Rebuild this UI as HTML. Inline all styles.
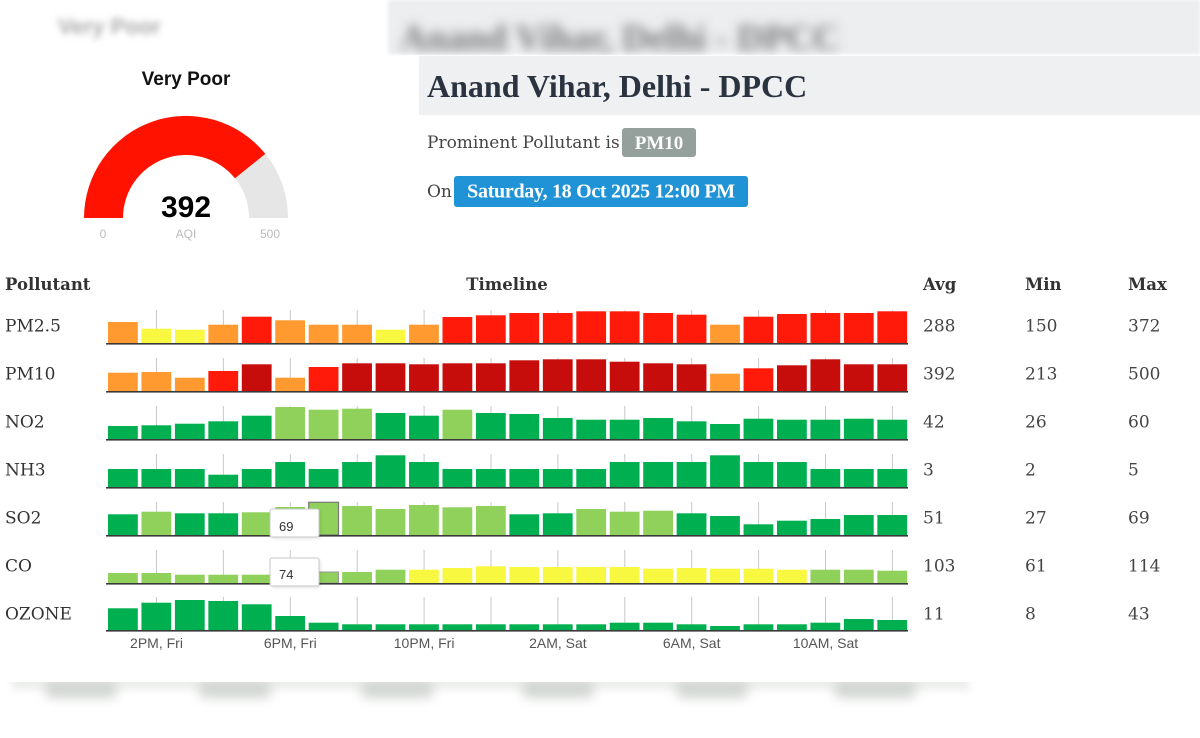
<!DOCTYPE html>
<html><head><meta charset="utf-8">
<style>
html,body{margin:0;padding:0;background:#fff;width:1200px;height:738px;overflow:hidden}
svg{display:block}
.O{fill:#ff9a30}.Y{fill:#f8f840}.R{fill:#ff1a0a}.D{fill:#c70d0c}.L{fill:#8fd15a}.G{fill:#00b050}
.ser{font-family:"DejaVu Serif","Liberation Serif",serif}
.lab{font-size:17px;fill:#333}
.val{font-size:17px;fill:#444}
.hd{font-size:16.5px;font-weight:bold;fill:#333}
.ax{font-family:"Liberation Sans",Arial,sans-serif;font-size:14px;fill:#555}
.tk line{stroke:#c8c8c8;stroke-width:1}
</style></head>
<body>
<svg width="1200" height="738" viewBox="0 0 1200 738" xmlns="http://www.w3.org/2000/svg">
<defs>
<filter id="b3" x="-20%" y="-50%" width="140%" height="200%"><feGaussianBlur stdDeviation="3.5"/></filter>
<filter id="b4" x="-20%" y="-50%" width="140%" height="200%"><feGaussianBlur stdDeviation="4"/></filter>
<filter id="b6" x="-20%" y="-60%" width="140%" height="220%"><feGaussianBlur stdDeviation="5.5"/></filter>
<filter id="sh" x="-30%" y="-30%" width="160%" height="160%"><feGaussianBlur stdDeviation="1.5"/></filter>
<clipPath id="bot"><rect x="0" y="682" width="1200" height="56"/></clipPath>
<clipPath id="topc"><rect x="388" y="0" width="812" height="55"/></clipPath>
<g id="ticks" class="tk">
<line x1="156.5" y1="-33" x2="156.5" y2="0"/><line x1="223.4" y1="-33" x2="223.4" y2="0"/><line x1="290.3" y1="-33" x2="290.3" y2="0"/><line x1="357.2" y1="-33" x2="357.2" y2="0"/><line x1="424.1" y1="-33" x2="424.1" y2="0"/><line x1="491" y1="-33" x2="491" y2="0"/><line x1="557.9" y1="-33" x2="557.9" y2="0"/><line x1="624.8" y1="-33" x2="624.8" y2="0"/><line x1="691.7" y1="-33" x2="691.7" y2="0"/><line x1="758.6" y1="-33" x2="758.6" y2="0"/><line x1="825.5" y1="-33" x2="825.5" y2="0"/><line x1="892.4" y1="-33" x2="892.4" y2="0"/>
</g>
</defs>

<!-- top blurred layer -->
<rect x="388" y="0" width="812" height="54" fill="#eceef0" filter="url(#sh)"/>
<g clip-path="url(#topc)">
<text x="400" y="50" font-family="Liberation Serif,serif" font-weight="bold" font-size="37" fill="#777" filter="url(#b6)">Anand Vihar, Delhi - DPCC</text>
</g>
<text x="58" y="34" font-family="Liberation Sans,sans-serif" font-weight="bold" font-size="22" fill="#aaa" filter="url(#b3)">Very Poor</text>

<!-- header -->
<rect x="419" y="56" width="781" height="59" fill="#eef0f2"/>
<text x="427" y="97" font-family="Liberation Serif,serif" font-weight="bold" font-size="32" fill="#2b3340">Anand Vihar, Delhi - DPCC</text>
<text x="427" y="148" class="ser" font-size="17" fill="#444">Prominent Pollutant is</text>
<rect x="622" y="128" width="74" height="29" rx="3" fill="#95a09d"/>
<text x="659" y="149" text-anchor="middle" font-family="Liberation Serif,serif" font-weight="bold" font-size="19" fill="#fff">PM10</text>
<text x="427" y="197" class="ser" font-size="17" fill="#444">On</text>
<rect x="454" y="176" width="294" height="31" rx="3" fill="#1f93d6"/>
<text x="601" y="197.5" text-anchor="middle" font-family="Liberation Serif,serif" font-weight="bold" font-size="20" letter-spacing="-0.3" fill="#fff">Saturday, 18 Oct 2025 12:00 PM</text>

<!-- gauge -->
<text x="186" y="85" text-anchor="middle" font-family="Liberation Sans,sans-serif" font-weight="bold" font-size="19" fill="#111">Very Poor</text>
<path d="M84,218 A102,102 0 0 1 265.4,153.9 L235,178.4 A63,63 0 0 0 123,218 Z" fill="#ff1300"/>
<path d="M265.4,153.9 A102,102 0 0 1 288,218 L249,218 A63,63 0 0 0 235,178.4 Z" fill="#e6e6e6"/>
<text x="186" y="217" text-anchor="middle" font-family="Liberation Sans,sans-serif" font-weight="bold" font-size="30" fill="#000">392</text>
<text x="103" y="238" text-anchor="middle" font-family="Liberation Sans,sans-serif" font-size="12" fill="#bbb">0</text>
<text x="186" y="238" text-anchor="middle" font-family="Liberation Sans,sans-serif" font-size="12" fill="#bbb">AQI</text>
<text x="270" y="238" text-anchor="middle" font-family="Liberation Sans,sans-serif" font-size="12" fill="#bbb">500</text>

<!-- table headers -->
<text x="5" y="290" class="ser hd">Pollutant</text>
<text x="507" y="290" text-anchor="middle" class="ser hd">Timeline</text>
<text x="923" y="290" class="ser hd">Avg</text>
<text x="1025" y="290" class="ser hd">Min</text>
<text x="1128" y="290" class="ser hd">Max</text>

<!-- labels & values -->
<g class="ser">
<text x="5" y="331.5" class="lab">PM2.5</text><text x="923" y="331.5" class="val">288</text><text x="1025" y="331.5" class="val">150</text><text x="1128" y="331.5" class="val">372</text>
<text x="5" y="379.5" class="lab">PM10</text><text x="923" y="379.5" class="val">392</text><text x="1025" y="379.5" class="val">213</text><text x="1128" y="379.5" class="val">500</text>
<text x="5" y="427.5" class="lab">NO2</text><text x="923" y="427.5" class="val">42</text><text x="1025" y="427.5" class="val">26</text><text x="1128" y="427.5" class="val">60</text>
<text x="5" y="475.5" class="lab">NH3</text><text x="923" y="475.5" class="val">3</text><text x="1025" y="475.5" class="val">2</text><text x="1128" y="475.5" class="val">5</text>
<text x="5" y="523.5" class="lab">SO2</text><text x="923" y="523.5" class="val">51</text><text x="1025" y="523.5" class="val">27</text><text x="1128" y="523.5" class="val">69</text>
<text x="5" y="571.5" class="lab">CO</text><text x="923" y="571.5" class="val">103</text><text x="1025" y="571.5" class="val">61</text><text x="1128" y="571.5" class="val">114</text>
<text x="5" y="619.5" class="lab">OZONE</text><text x="923" y="619.5" class="val">11</text><text x="1025" y="619.5" class="val">8</text><text x="1128" y="619.5" class="val">43</text>
</g>

<!-- ticks -->
<use href="#ticks" x="0" y="343"/>
<use href="#ticks" x="0" y="391"/>
<use href="#ticks" x="0" y="439"/>
<use href="#ticks" x="0" y="487"/>
<use href="#ticks" x="0" y="535"/>
<use href="#ticks" x="0" y="583"/>
<use href="#ticks" x="0" y="630"/>

<!-- PM2.5 -->
<g transform="translate(0,343)">
<rect x="108" y="-21" width="29.8" height="21" class="O"/>
<rect x="141.45" y="-14.3" width="29.8" height="14.3" class="Y"/>
<rect x="174.9" y="-13.3" width="29.8" height="13.3" class="Y"/>
<rect x="208.35" y="-18.3" width="29.8" height="18.3" class="O"/>
<rect x="241.8" y="-26.3" width="29.8" height="26.3" class="R"/>
<rect x="275.25" y="-22.7" width="29.8" height="22.7" class="O"/>
<rect x="308.7" y="-18.3" width="29.8" height="18.3" class="O"/>
<rect x="342.15" y="-18.3" width="29.8" height="18.3" class="O"/>
<rect x="375.6" y="-13.3" width="29.8" height="13.3" class="Y"/>
<rect x="409.05" y="-18.3" width="29.8" height="18.3" class="O"/>
<rect x="442.5" y="-26" width="29.8" height="26" class="R"/>
<rect x="475.95" y="-27.7" width="29.8" height="27.7" class="R"/>
<rect x="509.4" y="-30" width="29.8" height="30" class="R"/>
<rect x="542.85" y="-30" width="29.8" height="30" class="R"/>
<rect x="576.3" y="-31.7" width="29.8" height="31.7" class="R"/>
<rect x="609.75" y="-31.7" width="29.8" height="31.7" class="R"/>
<rect x="643.2" y="-30" width="29.8" height="30" class="R"/>
<rect x="676.65" y="-28.3" width="29.8" height="28.3" class="R"/>
<rect x="710.1" y="-18.3" width="29.8" height="18.3" class="O"/>
<rect x="743.55" y="-26.3" width="29.8" height="26.3" class="R"/>
<rect x="777" y="-29" width="29.8" height="29" class="R"/>
<rect x="810.45" y="-30" width="29.8" height="30" class="R"/>
<rect x="843.9" y="-30" width="29.8" height="30" class="R"/>
<rect x="877.35" y="-31.7" width="29.8" height="31.7" class="R"/>
<rect x="106" y="0" width="802" height="1.6" fill="#3a3a3a"/>
</g>

<!-- PM10 -->
<g transform="translate(0,391)">
<rect x="108" y="-18.3" width="29.8" height="18.3" class="O"/>
<rect x="141.45" y="-19" width="29.8" height="19" class="O"/>
<rect x="174.9" y="-13.3" width="29.8" height="13.3" class="O"/>
<rect x="208.35" y="-20" width="29.8" height="20" class="R"/>
<rect x="241.8" y="-26.7" width="29.8" height="26.7" class="D"/>
<rect x="275.25" y="-13.3" width="29.8" height="13.3" class="O"/>
<rect x="308.7" y="-24" width="29.8" height="24" class="R"/>
<rect x="342.15" y="-27.7" width="29.8" height="27.7" class="D"/>
<rect x="375.6" y="-27.7" width="29.8" height="27.7" class="D"/>
<rect x="409.05" y="-26.7" width="29.8" height="26.7" class="D"/>
<rect x="442.5" y="-27.7" width="29.8" height="27.7" class="D"/>
<rect x="475.95" y="-27.7" width="29.8" height="27.7" class="D"/>
<rect x="509.4" y="-30.7" width="29.8" height="30.7" class="D"/>
<rect x="542.85" y="-31.7" width="29.8" height="31.7" class="D"/>
<rect x="576.3" y="-31.7" width="29.8" height="31.7" class="D"/>
<rect x="609.75" y="-29.3" width="29.8" height="29.3" class="D"/>
<rect x="643.2" y="-27.7" width="29.8" height="27.7" class="D"/>
<rect x="676.65" y="-26.7" width="29.8" height="26.7" class="D"/>
<rect x="710.1" y="-17.3" width="29.8" height="17.3" class="O"/>
<rect x="743.55" y="-22.7" width="29.8" height="22.7" class="R"/>
<rect x="777" y="-25.7" width="29.8" height="25.7" class="D"/>
<rect x="810.45" y="-31.7" width="29.8" height="31.7" class="D"/>
<rect x="843.9" y="-26.7" width="29.8" height="26.7" class="D"/>
<rect x="877.35" y="-26.7" width="29.8" height="26.7" class="D"/>
<rect x="106" y="0" width="802" height="1.6" fill="#3a3a3a"/>
</g>

<!-- NO2 -->
<g transform="translate(0,439)">
<rect x="108" y="-13" width="29.8" height="13" class="G"/>
<rect x="141.45" y="-13.7" width="29.8" height="13.7" class="G"/>
<rect x="174.9" y="-15.3" width="29.8" height="15.3" class="G"/>
<rect x="208.35" y="-17.7" width="29.8" height="17.7" class="G"/>
<rect x="241.8" y="-23.3" width="29.8" height="23.3" class="G"/>
<rect x="275.25" y="-32" width="29.8" height="32" class="L"/>
<rect x="308.7" y="-29.3" width="29.8" height="29.3" class="L"/>
<rect x="342.15" y="-30.3" width="29.8" height="30.3" class="L"/>
<rect x="375.6" y="-26" width="29.8" height="26" class="G"/>
<rect x="409.05" y="-23.3" width="29.8" height="23.3" class="G"/>
<rect x="442.5" y="-29.3" width="29.8" height="29.3" class="L"/>
<rect x="475.95" y="-26" width="29.8" height="26" class="G"/>
<rect x="509.4" y="-25" width="29.8" height="25" class="G"/>
<rect x="542.85" y="-21" width="29.8" height="21" class="G"/>
<rect x="576.3" y="-19.3" width="29.8" height="19.3" class="G"/>
<rect x="609.75" y="-19.3" width="29.8" height="19.3" class="G"/>
<rect x="643.2" y="-21" width="29.8" height="21" class="G"/>
<rect x="676.65" y="-17.7" width="29.8" height="17.7" class="G"/>
<rect x="710.1" y="-15" width="29.8" height="15" class="G"/>
<rect x="743.55" y="-20.3" width="29.8" height="20.3" class="G"/>
<rect x="777" y="-19.3" width="29.8" height="19.3" class="G"/>
<rect x="810.45" y="-19.3" width="29.8" height="19.3" class="G"/>
<rect x="843.9" y="-20.3" width="29.8" height="20.3" class="G"/>
<rect x="877.35" y="-19.3" width="29.8" height="19.3" class="G"/>
<rect x="106" y="0" width="802" height="1.6" fill="#3a3a3a"/>
</g>

<!-- NH3 -->
<g transform="translate(0,487)">
<rect x="108" y="-18" width="29.8" height="18" class="G"/>
<rect x="141.45" y="-18" width="29.8" height="18" class="G"/>
<rect x="174.9" y="-18" width="29.8" height="18" class="G"/>
<rect x="208.35" y="-12.3" width="29.8" height="12.3" class="G"/>
<rect x="241.8" y="-18" width="29.8" height="18" class="G"/>
<rect x="275.25" y="-25" width="29.8" height="25" class="G"/>
<rect x="308.7" y="-18" width="29.8" height="18" class="G"/>
<rect x="342.15" y="-25" width="29.8" height="25" class="G"/>
<rect x="375.6" y="-31.7" width="29.8" height="31.7" class="G"/>
<rect x="409.05" y="-25" width="29.8" height="25" class="G"/>
<rect x="442.5" y="-18" width="29.8" height="18" class="G"/>
<rect x="475.95" y="-18" width="29.8" height="18" class="G"/>
<rect x="509.4" y="-18" width="29.8" height="18" class="G"/>
<rect x="542.85" y="-18" width="29.8" height="18" class="G"/>
<rect x="576.3" y="-18" width="29.8" height="18" class="G"/>
<rect x="609.75" y="-25" width="29.8" height="25" class="G"/>
<rect x="643.2" y="-25" width="29.8" height="25" class="G"/>
<rect x="676.65" y="-25" width="29.8" height="25" class="G"/>
<rect x="710.1" y="-31.7" width="29.8" height="31.7" class="G"/>
<rect x="743.55" y="-25" width="29.8" height="25" class="G"/>
<rect x="777" y="-25" width="29.8" height="25" class="G"/>
<rect x="810.45" y="-18" width="29.8" height="18" class="G"/>
<rect x="843.9" y="-18" width="29.8" height="18" class="G"/>
<rect x="877.35" y="-18" width="29.8" height="18" class="G"/>
<rect x="106" y="0" width="802" height="1.6" fill="#3a3a3a"/>
</g>

<!-- SO2 -->
<g transform="translate(0,535)">
<rect x="108" y="-20.7" width="29.8" height="20.7" class="G"/>
<rect x="141.45" y="-23.3" width="29.8" height="23.3" class="L"/>
<rect x="174.9" y="-21.7" width="29.8" height="21.7" class="G"/>
<rect x="208.35" y="-21.7" width="29.8" height="21.7" class="G"/>
<rect x="241.8" y="-22.7" width="29.8" height="22.7" class="L"/>
<rect x="275.25" y="-28" width="29.8" height="28" class="L"/>
<rect x="308.7" y="-32.7" width="29.8" height="32.7" class="L" stroke="#777" stroke-width="1.2"/>
<rect x="342.15" y="-29" width="29.8" height="29" class="L"/>
<rect x="375.6" y="-26" width="29.8" height="26" class="L"/>
<rect x="409.05" y="-30" width="29.8" height="30" class="L"/>
<rect x="442.5" y="-27.7" width="29.8" height="27.7" class="L"/>
<rect x="475.95" y="-29" width="29.8" height="29" class="L"/>
<rect x="509.4" y="-20.7" width="29.8" height="20.7" class="G"/>
<rect x="542.85" y="-21.7" width="29.8" height="21.7" class="G"/>
<rect x="576.3" y="-26" width="29.8" height="26" class="L"/>
<rect x="609.75" y="-23.3" width="29.8" height="23.3" class="L"/>
<rect x="643.2" y="-24.3" width="29.8" height="24.3" class="L"/>
<rect x="676.65" y="-21.7" width="29.8" height="21.7" class="G"/>
<rect x="710.1" y="-19" width="29.8" height="19" class="G"/>
<rect x="743.55" y="-10.7" width="29.8" height="10.7" class="G"/>
<rect x="777" y="-14.3" width="29.8" height="14.3" class="G"/>
<rect x="810.45" y="-16" width="29.8" height="16" class="G"/>
<rect x="843.9" y="-20" width="29.8" height="20" class="G"/>
<rect x="877.35" y="-20" width="29.8" height="20" class="G"/>
<rect x="106" y="0" width="802" height="1.6" fill="#3a3a3a"/>
</g>

<!-- CO -->
<g transform="translate(0,583)">
<rect x="108" y="-10" width="29.8" height="10" class="L"/>
<rect x="141.45" y="-10" width="29.8" height="10" class="L"/>
<rect x="174.9" y="-8.3" width="29.8" height="8.3" class="L"/>
<rect x="208.35" y="-8.3" width="29.8" height="8.3" class="L"/>
<rect x="241.8" y="-8.3" width="29.8" height="8.3" class="L"/>
<rect x="275.25" y="-9" width="29.8" height="9" class="L"/>
<rect x="308.7" y="-11" width="29.8" height="11" class="L" stroke="#999" stroke-width="1"/>
<rect x="342.15" y="-11" width="29.8" height="11" class="L"/>
<rect x="375.6" y="-13.3" width="29.8" height="13.3" class="L"/>
<rect x="409.05" y="-13.3" width="29.8" height="13.3" class="Y"/>
<rect x="442.5" y="-15" width="29.8" height="15" class="Y"/>
<rect x="475.95" y="-16.7" width="29.8" height="16.7" class="Y"/>
<rect x="509.4" y="-16" width="29.8" height="16" class="Y"/>
<rect x="542.85" y="-16" width="29.8" height="16" class="Y"/>
<rect x="576.3" y="-16" width="29.8" height="16" class="Y"/>
<rect x="609.75" y="-16" width="29.8" height="16" class="Y"/>
<rect x="643.2" y="-14.3" width="29.8" height="14.3" class="Y"/>
<rect x="676.65" y="-15" width="29.8" height="15" class="Y"/>
<rect x="710.1" y="-14.3" width="29.8" height="14.3" class="Y"/>
<rect x="743.55" y="-14.3" width="29.8" height="14.3" class="Y"/>
<rect x="777" y="-13.3" width="29.8" height="13.3" class="Y"/>
<rect x="810.45" y="-13.3" width="29.8" height="13.3" class="L"/>
<rect x="843.9" y="-13.3" width="29.8" height="13.3" class="L"/>
<rect x="877.35" y="-12.3" width="29.8" height="12.3" class="L"/>
<rect x="106" y="0" width="802" height="1.6" fill="#3a3a3a"/>
</g>

<!-- OZONE -->
<g transform="translate(0,630)">
<rect x="108" y="-21.7" width="29.8" height="21.7" class="G"/>
<rect x="141.45" y="-27.3" width="29.8" height="27.3" class="G"/>
<rect x="174.9" y="-30" width="29.8" height="30" class="G"/>
<rect x="208.35" y="-29" width="29.8" height="29" class="G"/>
<rect x="241.8" y="-25.7" width="29.8" height="25.7" class="G"/>
<rect x="275.25" y="-14" width="29.8" height="14" class="G"/>
<rect x="308.7" y="-7.3" width="29.8" height="7.3" class="G"/>
<rect x="342.15" y="-5.7" width="29.8" height="5.7" class="G"/>
<rect x="375.6" y="-5.7" width="29.8" height="5.7" class="G"/>
<rect x="409.05" y="-5.7" width="29.8" height="5.7" class="G"/>
<rect x="442.5" y="-5.7" width="29.8" height="5.7" class="G"/>
<rect x="475.95" y="-5.7" width="29.8" height="5.7" class="G"/>
<rect x="509.4" y="-5.7" width="29.8" height="5.7" class="G"/>
<rect x="542.85" y="-5.7" width="29.8" height="5.7" class="G"/>
<rect x="576.3" y="-5.7" width="29.8" height="5.7" class="G"/>
<rect x="609.75" y="-7.3" width="29.8" height="7.3" class="G"/>
<rect x="643.2" y="-7.3" width="29.8" height="7.3" class="G"/>
<rect x="676.65" y="-5.7" width="29.8" height="5.7" class="G"/>
<rect x="710.1" y="-4" width="29.8" height="4" class="G"/>
<rect x="743.55" y="-5.7" width="29.8" height="5.7" class="G"/>
<rect x="777" y="-5.7" width="29.8" height="5.7" class="G"/>
<rect x="810.45" y="-7.3" width="29.8" height="7.3" class="G"/>
<rect x="843.9" y="-11" width="29.8" height="11" class="G"/>
<rect x="877.35" y="-10" width="29.8" height="10" class="G"/>
<rect x="106" y="0" width="802" height="1.6" fill="#3a3a3a"/>
</g>

<!-- tooltips -->
<rect x="271.5" y="510.5" width="49" height="28" rx="2" fill="#000" opacity="0.12" filter="url(#sh)"/>
<rect x="270" y="509" width="49" height="28" rx="2" fill="#fff" stroke="#c8c8c8" stroke-width="1"/>
<text x="279" y="531" font-family="Liberation Sans,Arial,sans-serif" font-size="13" fill="#333">69</text>
<rect x="271.5" y="559.5" width="49" height="28" rx="2" fill="#000" opacity="0.12" filter="url(#sh)"/>
<rect x="270" y="558" width="49" height="28" rx="2" fill="#fff" stroke="#c8c8c8" stroke-width="1"/>
<text x="279" y="579" font-family="Liberation Sans,Arial,sans-serif" font-size="13" fill="#333">74</text>

<!-- x axis labels -->
<g class="ax" text-anchor="middle">
<text x="156.5" y="648">2PM, Fri</text>
<text x="290.3" y="648">6PM, Fri</text>
<text x="424.1" y="648">10PM, Fri</text>
<text x="557.9" y="648">2AM, Sat</text>
<text x="691.7" y="648">6AM, Sat</text>
<text x="825.5" y="648">10AM, Sat</text>
</g>

<!-- bottom blurred layer -->
<g clip-path="url(#bot)">
<rect x="12" y="676" width="958" height="14" fill="#eceeec" filter="url(#b4)"/>
<g fill="#d2d6d2" filter="url(#b6)">
<rect x="46" y="680" width="70" height="18"/>
<rect x="200" y="680" width="70" height="18"/>
<rect x="362" y="680" width="70" height="18"/>
<rect x="523" y="680" width="70" height="18"/>
<rect x="677" y="680" width="70" height="18"/>
<rect x="835" y="680" width="80" height="18"/>
</g>
</g>
</svg>
</body></html>
